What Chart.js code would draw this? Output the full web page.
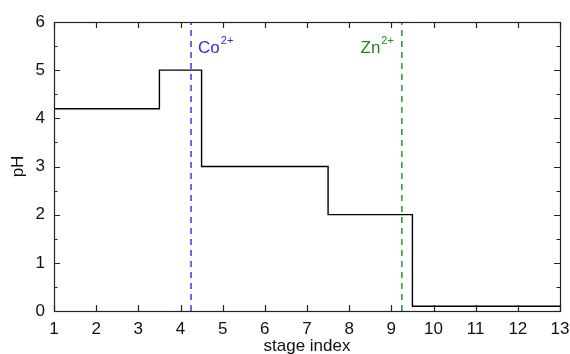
<!DOCTYPE html>
<html>
<head>
<meta charset="utf-8">
<script src="https://cdn.jsdelivr.net/npm/chart.js@4/dist/chart.umd.min.js"></script>
<style>
  html, body { margin: 0; padding: 0; background: #fff; }
  #wrap { width: 570px; height: 354px; }
</style>
</head>
<body>
<div id="wrap"><canvas id="c"></canvas></div>
<script>
// step edges (stage index) and the pH held from each edge to the next
const stageEdges = [1, 3.5, 4.5, 7.5, 9.5, 13];
const phLevels = [4.2, 5, 3, 2, 0.1, 0.1];

// precipitation markers
const markerNames = ["Co", "Zn"];
const markerCharges = ["2+", "2+"];
const markerStages = [4.25, 9.25];
const markerColors = ["#2b2bf0", "#1a8a1a"];

const xRange = [1, 13];
const yRange = [0, 6];

const FONT = "'Liberation Sans', Arial, sans-serif";

const datasets = [{
  data: stageEdges.map((x, i) => ({ x: x, y: phLevels[i] })),
  borderColor: "#000",
  borderWidth: 1.4,
  stepped: "before",
  pointRadius: 0,
  fill: false,
}];
markerStages.forEach((s, i) => {
  datasets.push({
    data: [{ x: s, y: yRange[0] }, { x: s, y: yRange[1] }],
    borderColor: markerColors[i],
    borderWidth: 1.4,
    borderDash: [6, 5],
    pointRadius: 0,
    fill: false,
  });
});

// frame, inward ticks and the ion labels
const decorations = {
  id: "decorations",
  afterDraw(chart) {
    const ctx = chart.ctx;
    const a = chart.chartArea;
    const xs = chart.scales.x, ys = chart.scales.y;
    ctx.save();
    ctx.strokeStyle = "#222";
    ctx.lineWidth = 1.2;
    ctx.strokeRect(a.left + 0.5, a.top + 0.5, a.right - a.left, a.bottom - a.top);

    ctx.beginPath();
    for (let v = xRange[0]; v <= xRange[1]; v++) {
      const px = Math.round(xs.getPixelForValue(v)) + 0.5;
      ctx.moveTo(px, a.bottom); ctx.lineTo(px, a.bottom - 6);
      ctx.moveTo(px, a.top); ctx.lineTo(px, a.top + 6);
    }
    for (let v = yRange[0]; v <= yRange[1]; v += 0.5) {
      const py = Math.round(ys.getPixelForValue(v)) + 0.5;
      const len = Number.isInteger(v) ? 6 : 3.5;
      ctx.moveTo(a.left, py); ctx.lineTo(a.left + len, py);
      ctx.moveTo(a.right, py); ctx.lineTo(a.right - len, py);
    }
    ctx.stroke();

    const baseY = ys.top + 31;
    markerStages.forEach((s, i) => {
      const px = xs.getPixelForValue(s);
      ctx.fillStyle = markerColors[i];
      ctx.textBaseline = "alphabetic";
      ctx.font = "17px " + FONT;
      const w1 = ctx.measureText(markerNames[i]).width;
      ctx.font = "11px " + FONT;
      const w2 = ctx.measureText(markerCharges[i]).width;
      const startX = i === 0 ? px + 7 : px - 9 - w1 - w2;
      ctx.font = "17px " + FONT;
      ctx.textAlign = "left";
      ctx.fillText(markerNames[i], startX, baseY);
      ctx.font = "11px " + FONT;
      ctx.fillText(markerCharges[i], startX + w1 + 1, baseY - 9);
    });
    ctx.restore();
  }
};

new Chart(document.getElementById("c"), {
  type: "line",
  data: { datasets: datasets },
  plugins: [decorations],
  options: {
    responsive: true,
    maintainAspectRatio: false,
    animation: false,
    layout: { padding: { left: 0, right: 10, top: 22, bottom: 0 } },
    plugins: { legend: { display: false }, tooltip: { enabled: false } },
    scales: {
      x: {
        type: "linear",
        min: xRange[0], max: xRange[1],
        grid: { display: false, drawTicks: false },
        border: { display: false },
        ticks: { stepSize: 1, padding: 8, color: "#111", font: { family: FONT, size: 17 } },
        title: { display: true, text: "stage index", color: "#111", padding: { top: 0, bottom: -3 }, font: { family: FONT, size: 17 } },
        afterFit(scale) { scale.height = 43; scale.paddingLeft = 0; scale.paddingRight = 0; }
      },
      y: {
        min: yRange[0], max: yRange[1],
        grid: { display: false, drawTicks: false },
        border: { display: false },
        ticks: { stepSize: 1, padding: 9, color: "#111", font: { family: FONT, size: 17 } },
        title: { display: true, text: "pH", color: "#111", padding: { top: 8, bottom: 0 }, font: { family: FONT, size: 17 } },
        afterFit(scale) { scale.width = 54; }
      }
    }
  }
});
</script>
</body>
</html>
